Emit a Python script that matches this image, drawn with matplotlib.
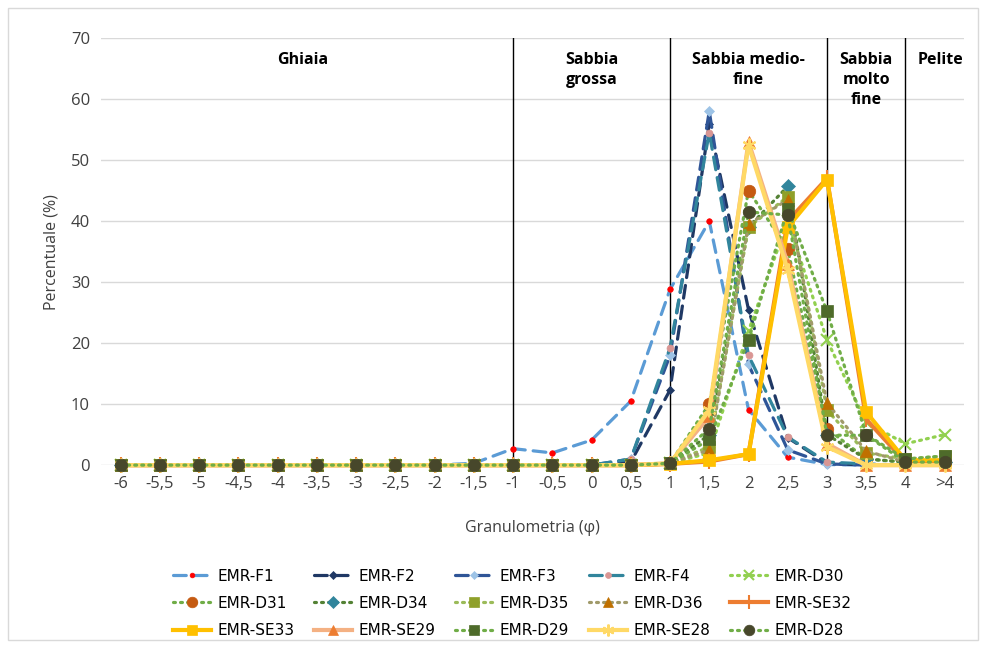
import matplotlib
matplotlib.use('Agg')
import matplotlib.pyplot as plt
from matplotlib.patches import Rectangle

# categorie granulometriche (phi)
categorie = ['-6', '-5,5', '-5', '-4,5', '-4', '-3,5', '-3', '-2,5', '-2', '-1,5',
             '-1', '-0,5', '0', '0,5', '1', '1,5', '2', '2,5', '3', '3,5', '4', '>4']

# percentuali per campione
emr_f1 = [0, 0, 0, 0, 0, 0, 0, 0, 0, 0.3, 2.7, 2.0, 4.1, 10.5, 28.8, 40.0, 9.1, 1.3, 0.1, 0, 0, 0]
emr_f2 = [0, 0, 0, 0, 0, 0, 0, 0, 0, 0, 0, 0, 0, 0.5, 12.3, 56.0, 25.5, 4.5, 0.3, 0, 0, 0]
emr_f3 = [0, 0, 0, 0, 0, 0, 0, 0, 0, 0, 0, 0, 0, 1.0, 18.0, 58.0, 16.5, 2.5, 0.2, 0, 0, 0]
emr_f4 = [0, 0, 0, 0, 0, 0, 0, 0, 0, 0, 0, 0, 0, 1.0, 19.2, 54.5, 18.0, 4.6, 0.5, 0.2, 0, 0]
emr_d30 = [0, 0, 0, 0, 0, 0, 0, 0, 0, 0, 0, 0, 0, 0, 0.3, 2.0, 22.0, 40.0, 20.5, 7.0, 3.5, 5.0]
emr_d31 = [0, 0, 0, 0, 0, 0, 0, 0, 0, 0, 0, 0, 0, 0, 0.3, 10.0, 45.0, 35.4, 6.0, 1.0, 0.5, 0.5]
emr_d34 = [0, 0, 0, 0, 0, 0, 0, 0, 0, 0, 0, 0, 0, 0, 0.3, 5.0, 39.0, 45.7, 5.0, 1.0, 0.5, 0.5]
emr_d35 = [0, 0, 0, 0, 0, 0, 0, 0, 0, 0, 0, 0, 0, 0, 0.3, 3.0, 39.0, 44.0, 9.0, 2.0, 1.0, 1.5]
emr_d36 = [0, 0, 0, 0, 0, 0, 0, 0, 0, 0, 0, 0, 0, 0, 0.3, 2.5, 39.5, 43.5, 10.2, 2.3, 0.5, 0.5]
emr_se32 = [0, 0, 0, 0, 0, 0, 0, 0, 0, 0, 0, 0, 0, 0, 0.2, 0.6, 1.8, 40.0, 47.0, 7.5, 0.5, 0.5]
emr_se33 = [0, 0, 0, 0, 0, 0, 0, 0, 0, 0, 0, 0, 0, 0, 0.2, 0.8, 1.8, 39.0, 46.8, 8.7, 0.8, 0.8]
emr_se29 = [0, 0, 0, 0, 0, 0, 0, 0, 0, 0, 0, 0, 0, 0, 0.3, 8.0, 53.0, 33.0, 3.5, 0, 0, 0]
emr_d29 = [0, 0, 0, 0, 0, 0, 0, 0, 0, 0, 0, 0, 0, 0, 0.3, 4.2, 20.5, 42.0, 25.2, 5.0, 1.0, 1.5]
emr_se28 = [0, 0, 0, 0, 0, 0, 0, 0, 0, 0, 0, 0, 0, 0, 0.3, 9.0, 52.5, 32.0, 3.0, 0, 0, 0]
emr_d28 = [0, 0, 0, 0, 0, 0, 0, 0, 0, 0, 0, 0, 0, 0, 0.3, 6.0, 41.5, 41.0, 4.9, 4.9, 0.5, 0.5]

# limiti delle classi e etichette
limiti = ['-1', '1', '3', '4']
classi = ['Ghiaia', 'Sabbia\ngrossa', 'Sabbia medio-\nfine', 'Sabbia\nmolto\nfine', 'Pelite']
classi_pos = [4.65, 12, 16, 19, 20.9]

x = list(range(len(categorie)))
dot = (0, (0.6, 1.6))

# (nome, valori, colore linea, stile, marker, colore marker, dimensione)
serie = [
    ('EMR-F1', emr_f1, '#5B9BD5', (0, (4, 2.5)), 'o', '#FF0000', 4),
    ('EMR-F2', emr_f2, '#1F3864', (0, (4, 2.5)), 'D', '#1F3864', 4.5),
    ('EMR-F3', emr_f3, '#2F5597', (0, (4, 2.5)), 'D', '#9DC3E6', 5),
    ('EMR-F4', emr_f4, '#31859C', (0, (4, 2.5)), 'o', '#D99694', 5),
    ('EMR-D30', emr_d30, '#92D050', dot, 'x', '#92D050', 8),
    ('EMR-D31', emr_d31, '#70AD47', dot, 'o', '#C55A11', 9),
    ('EMR-D34', emr_d34, '#548235', dot, 'D', '#31859C', 7),
    ('EMR-D35', emr_d35, '#9BBB59', dot, 's', '#8FA02A', 9),
    ('EMR-D36', emr_d36, '#A09A6A', dot, '^', '#C07000', 8),
    ('EMR-SE32', emr_se32, '#ED7D31', '-', '|', '#ED7D31', 12),
    ('EMR-SE33', emr_se33, '#FFC000', '-', 's', '#FFC000', 9),
    ('EMR-SE29', emr_se29, '#F4B183', '-', '^', '#ED7D31', 8),
    ('EMR-D29', emr_d29, '#70AD47', dot, 's', '#4E6B2A', 9),
    ('EMR-SE28', emr_se28, '#FFD966', '-', (6, 2, 0), '#FFD966', 10),
    ('EMR-D28', emr_d28, '#70AD47', dot, 'o', '#47472B', 9),
]

fig = plt.figure(figsize=(9.81, 6.46), dpi=100)
ax = fig.add_axes([0.103, 0.28, 0.88, 0.661])

handles = []
for nome, valori, col, ls, mk, mcol, ms in serie:
    lw = 3 if ls == '-' else 2.3
    h, = ax.plot(x, valori, color=col, linestyle=ls, linewidth=lw,
                 marker=mk, markersize=ms, markerfacecolor=mcol,
                 markeredgecolor=mcol, markeredgewidth=1.5 if mk in ('x', '|') or isinstance(mk, tuple) else 0.5,
                 dash_capstyle='round', label=nome, clip_on=False)
    handles.append(h)

for lim in limiti:
    i = categorie.index(lim)
    ax.plot([i, i], [0, 70], color='black', linewidth=1, zorder=1)

for testo, pos in zip(classi, classi_pos):
    ax.text(pos, 67.8, testo, ha='center', va='top', fontsize=11.5,
            fontweight='bold', family='Open Sans', linespacing=1.35)

ax.set_xlim(-0.5, len(categorie) - 0.5)
ax.set_ylim(0, 70)
ax.set_yticks(range(0, 71, 10))
ax.set_xticks(x)
ax.set_xticklabels(categorie)
ax.yaxis.grid(True, color='#D9D9D9', linewidth=1)
ax.set_axisbelow(True)
for s in ax.spines.values():
    s.set_visible(False)
ax.tick_params(length=0, labelsize=12, labelcolor='#404040', pad=8)
for lab in ax.get_xticklabels() + ax.get_yticklabels():
    lab.set_family('Open Sans')
ax.set_ylabel('Percentuale (%)', fontsize=11.5, color='#404040', family='Open Sans', labelpad=8)
ax.set_xlabel('Granulometria (φ)', fontsize=11.5, color='#404040', family='Open Sans', labelpad=20)

# legenda per righe come in Excel
ncol = 5
ordine = [r * ncol + c for c in range(ncol) for r in range(3)]
leg = ax.legend([handles[k] for k in ordine], [serie[k][0] for k in ordine],
                ncol=ncol, loc='upper center', bbox_to_anchor=(0.476, -0.21),
                frameon=False, fontsize=11, handlelength=2.5, columnspacing=1.3,
                labelspacing=0.8, handletextpad=0.4, markerscale=0.85)
for t in leg.get_texts():
    t.set_color('#000000')

fig.patches.append(Rectangle((8 / 981, 6 / 646), 970 / 981, 632 / 646, transform=fig.transFigure,
                             fill=False, edgecolor='#D9D9D9', linewidth=1))

fig.savefig('out.png', dpi=100)
